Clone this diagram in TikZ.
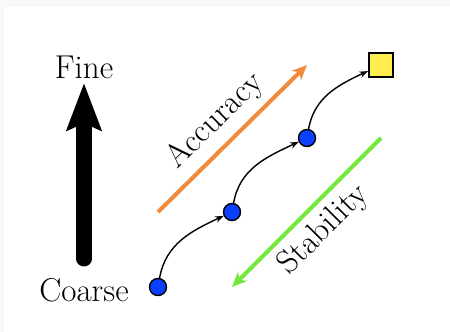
\documentclass[tikz,border=0pt]{standalone}
\usetikzlibrary{arrows.meta,calc}

\definecolor{ptblue}{RGB}{10,64,255}
\definecolor{goalyellow}{RGB}{255,236,80}
\definecolor{accorange}{RGB}{240,138,60}
\definecolor{stabgreen}{RGB}{112,232,60}
\definecolor{framegray}{RGB}{248,248,248}

\begin{document}
\begin{tikzpicture}[
  pt/.style={circle, draw, thick, fill=ptblue, inner sep=0pt, minimum size=0.34cm},
  goal/.style={rectangle, draw, very thick, fill=goalyellow, inner sep=0pt, minimum size=0.48cm},
  hop/.style={-{Stealth[length=1.7mm, width=1.3mm]}, thick},
  trend/.style={-{Stealth[length=3mm, width=2.6mm]}, line width=2.3pt},
  lbl/.style={font=\fontsize{18.8}{22}\selectfont},
]

% ====== Canvas ======
\fill[framegray] (0,0) rectangle (9,6.64);
\fill[white] (0.08,0) rectangle (9,6.5);
\useasboundingbox (0,0) rectangle (9,6.64);

% ====== Coarse -> Fine ======
\node[lbl] (fine) at (1.68,5.30) {Fine};
\node[lbl] (coarse) at (1.68,0.84) {Coarse};
\coordinate (lo) at (1.68,1.46);
\coordinate (hi) at (1.68,4.98);
\draw[line width=0.3cm, line cap=round, -{Stealth[length=0.94cm, width=0.68cm, inset=0.14cm]}] (lo) -- (hi);

% ====== Iterates ======
\node[pt] (p1) at (3.16,0.90) {};
\node[pt] (p2) at (4.64,2.40) {};
\node[pt] (p3) at (6.14,3.88) {};
\node[goal] (sol) at (7.62,5.34) {};
\draw[hop] (p1) to[out=80, in=205] (p2);
\draw[hop] (p2) to[out=80, in=205] (p3);
\draw[hop] (p3) to[out=80, in=205] (sol);

% ====== Accuracy / Stability ======
\coordinate (a0) at (p1 |- p2);
\coordinate (a1) at (p3 |- sol);
\coordinate (s0) at (sol |- p3);
\coordinate (s1) at (p2 |- p1);
\draw[trend, accorange] (a0) -- node[lbl, midway, sloped, above=1pt, text=black] {Accuracy} (a1);
\draw[trend, stabgreen] (s0) -- node[lbl, midway, sloped, below=1pt, text=black] {Stability} (s1);

\end{tikzpicture}
\end{document}
